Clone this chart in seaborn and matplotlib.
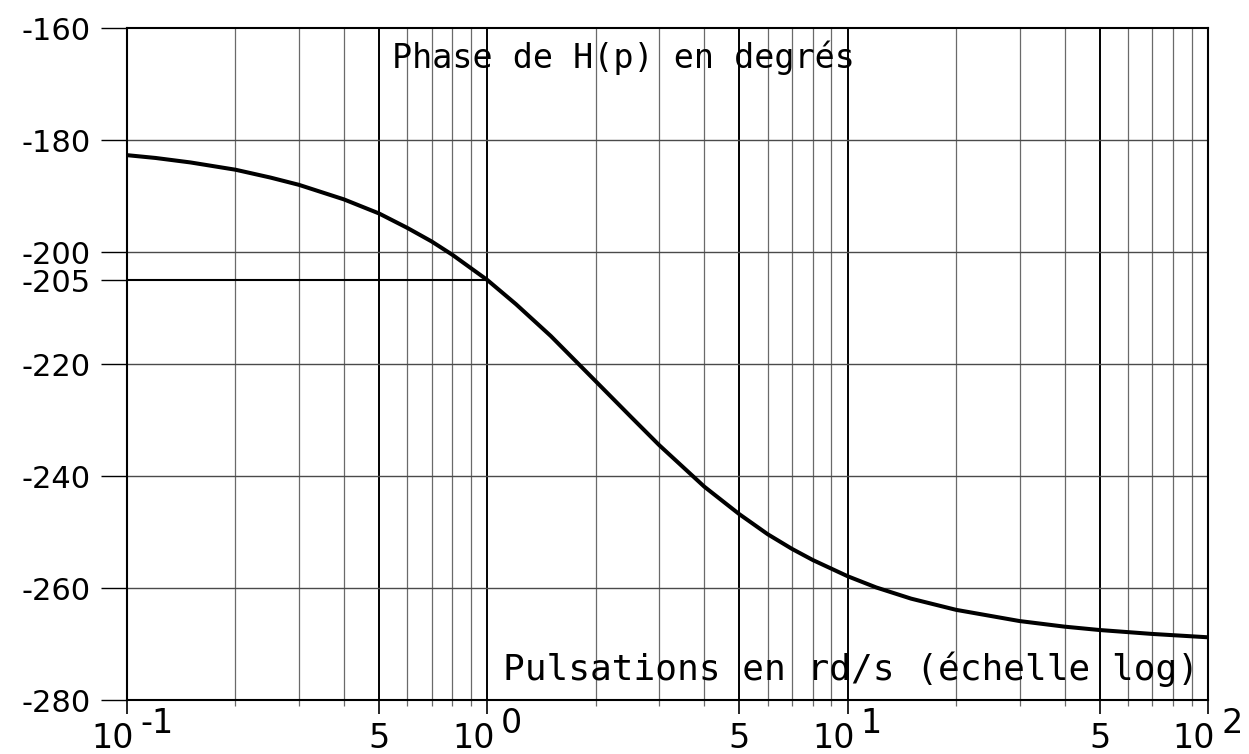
import matplotlib
matplotlib.use("Agg")
import matplotlib.pyplot as plt
from matplotlib.ticker import NullFormatter
import numpy as np
import pandas as pd
import seaborn as sns

# Phase of H(p) versus angular frequency (rad/s)
omega = [0.1, 0.12, 0.15, 0.2, 0.25, 0.3, 0.4, 0.5, 0.6, 0.7, 0.8, 1.0,
         1.2, 1.5, 2.0, 2.5, 3.0, 4.0, 5.0, 6.0, 7.0, 8.0, 10.0, 12.0,
         15.0, 20.0, 30.0, 40.0, 50.0, 70.0, 100.0]
phase = [-182.7, -183.2, -184.0, -185.3, -186.7, -188.0, -190.6, -193.1,
         -195.7, -198.1, -200.5, -205.0, -209.3, -215.0, -223.1, -229.4,
         -234.5, -241.9, -246.8, -250.4, -253.0, -255.0, -257.9, -259.9,
         -261.9, -263.9, -265.9, -266.9, -267.5, -268.2, -268.8]

# Axis ticks
y_ticks = [-280, -260, -240, -220, -205, -200, -180, -160]
y_grid = [-260, -240, -220, -200, -180]
ref_phase = -205
ref_omega = 1.0
x_decades = [0.1, 1.0, 10.0, 100.0]
x_decade_exps = ["-1", "0", "1", "2"]
x_fives = [0.5, 5.0, 50.0]
x_minor = [m * d for d in [0.1, 1.0, 10.0] for m in [2, 3, 4, 6, 7, 8, 9]]

title_text = "Phase de H(p) en degrés"
xlabel_text = "Pulsations en rd/s (échelle log)"

sns.set_theme(style="white")
plt.rcParams["font.family"] = ["DejaVu Sans"]
plt.rcParams["text.color"] = "black"
plt.rcParams["ytick.labelcolor"] = "black"
plt.rcParams["xtick.labelcolor"] = "black"

fig = plt.figure(figsize=(12.49, 7.54), dpi=100)
ax = fig.add_axes([0.1017, 0.0716, 0.8655, 0.8912])
ax.set_xscale("log")

df = pd.DataFrame({"omega": omega, "phase": phase})

# grid: decades and fives in black, other minor lines in grey
for x in x_minor:
    ax.axvline(x, color="#6a6a6a", lw=0.9, zorder=1)
for x in x_decades + x_fives:
    ax.axvline(x, color="black", lw=1.4, zorder=1)
for y in y_grid:
    ax.axhline(y, color="#4a4a4a", lw=1.0, zorder=1)
ax.hlines(ref_phase, omega[0], ref_omega, color="black", lw=1.5, zorder=1)

sns.lineplot(data=df, x="omega", y="phase", ax=ax, color="black",
             lw=2.9, zorder=3, sort=True)

ax.set_xlim(0.1, 100)
ax.set_ylim(-280, -160)
ax.set_xlabel("")
ax.set_ylabel("")

for sp in ax.spines.values():
    sp.set_color("black")
    sp.set_linewidth(1.5)

ax.set_yticks(y_ticks)
ax.set_yticklabels([str(v) for v in y_ticks], color="black")
ax.tick_params(axis="y", direction="out", length=19, width=1.0,
               color="black", pad=7, labelsize=22, left=True)

ax.set_xticks(x_decades + x_fives)
ax.set_xticklabels([])
ax.set_xticks(x_minor, minor=True)
ax.xaxis.set_minor_formatter(NullFormatter())
ax.tick_params(axis="x", which="major", direction="out", length=10,
               width=1.2, color="black", bottom=True)
ax.tick_params(axis="x", which="minor", direction="out", length=4.5,
               width=0.9, color="#6a6a6a", bottom=True)

# decade labels written as "10" with a full-size exponent
for x, e in zip(x_decades, x_decade_exps):
    ax.annotate("10", xy=(x, 0), xycoords=("data", "axes fraction"),
                xytext=(-14, -48), textcoords="offset pixels",
                ha="center", va="baseline", fontsize=24, color="black")
    ax.annotate(e, xy=(x, 0), xycoords=("data", "axes fraction"),
                xytext=(13, -33), textcoords="offset pixels",
                ha="left", va="baseline", fontsize=24, color="black")
for x in x_fives:
    ax.annotate("5", xy=(x, 0), xycoords=("data", "axes fraction"),
                xytext=(0, -48), textcoords="offset pixels",
                ha="center", va="baseline", fontsize=24, color="black")

ax.text(0.245, 0.940, title_text, transform=ax.transAxes, color="black",
        family="DejaVu Sans Mono", fontsize=24, va="baseline", ha="left")
ax.text(0.348, 0.030, xlabel_text, transform=ax.transAxes, color="black",
        family="DejaVu Sans Mono", fontsize=26, va="baseline", ha="left")

fig.savefig("out.png", dpi=100, facecolor="white")
